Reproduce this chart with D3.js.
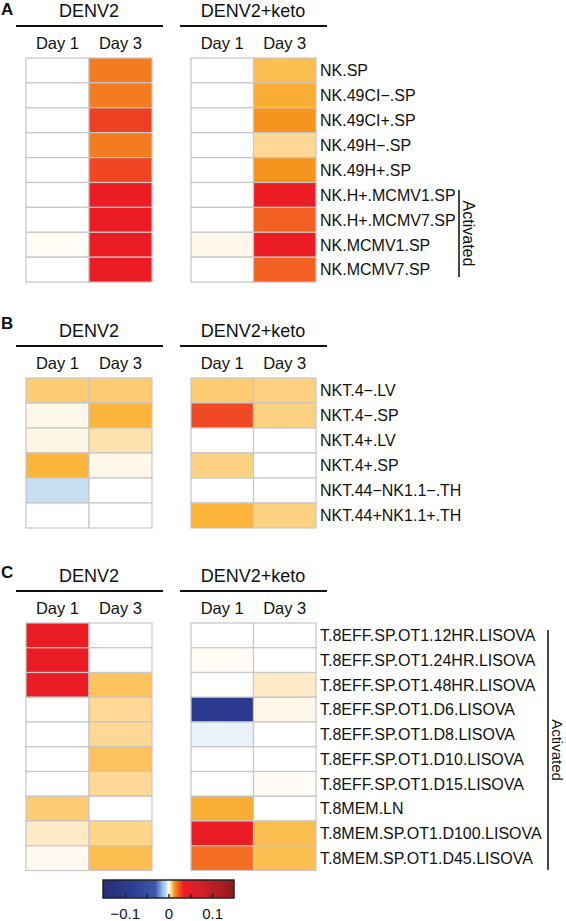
<!DOCTYPE html>
<html><head><meta charset="utf-8">
<script src="https://cdn.jsdelivr.net/npm/d3@7"></script>
<style>
body{margin:0;background:#fff;}
text{font-family:"Liberation Sans",Arial,Helvetica,sans-serif;fill:#111;}
</style></head>
<body><svg id="c" width="566" height="921"></svg>
<script>
const groups = ["DENV2", "DENV2+keto"];
const days = ["Day 1", "Day 3"];

const rowsA = ["NK.SP","NK.49CI\u2212.SP","NK.49CI+.SP","NK.49H\u2212.SP","NK.49H+.SP","NK.H+.MCMV1.SP","NK.H+.MCMV7.SP","NK.MCMV1.SP","NK.MCMV7.SP"];
const a_denv_d1 = [0,0,0,0,0,0,0,0.001,0];
const a_denv_d3 = [0.018,0.018,0.028,0.018,0.027,0.035,0.036,0.036,0.036];
const a_keto_d1 = [0,0,0,0,0,0,0,0.002,0];
const a_keto_d3 = [0.009,0.011,0.014,0.006,0.014,0.036,0.022,0.036,0.022];

const rowsB = ["NKT.4\u2212.LV","NKT.4\u2212.SP","NKT.4+.LV","NKT.4+.SP","NKT.44\u2212NK1.1\u2212.TH","NKT.44+NK1.1+.TH"];
const b_denv_d1 = [0.0075,0.002,0.0025,0.010,-0.005,0];
const b_denv_d3 = [0.0075,0.010,0.005,0.002,0,0];
const b_keto_d1 = [0.0075,0.026,0,0.0068,0,0.010];
const b_keto_d3 = [0.0068,0.0068,0,0,0,0.0068];

const rowsC = ["T.8EFF.SP.OT1.12HR.LISOVA","T.8EFF.SP.OT1.24HR.LISOVA","T.8EFF.SP.OT1.48HR.LISOVA","T.8EFF.SP.OT1.D6.LISOVA","T.8EFF.SP.OT1.D8.LISOVA","T.8EFF.SP.OT1.D10.LISOVA","T.8EFF.SP.OT1.D15.LISOVA","T.8MEM.LN","T.8MEM.SP.OT1.D100.LISOVA","T.8MEM.SP.OT1.D45.LISOVA"];
const c_denv_d1 = [0.036,0.036,0.036,0,0,0,0,0.0075,0.004,0.0015];
const c_denv_d3 = [0,0,0.0085,0.006,0.006,0.0085,0.006,0,0.0065,0.009];
const c_keto_d1 = [0,0.001,0,-0.1,-0.002,0,0,0.011,0.036,0.02];
const c_keto_d3 = [0,0,0.004,0.002,0,0,0.001,0,0.009,0.009];

const colorTicks = [-0.1,-0.05,0,0.05,0.1];
const colorDomain = [-0.15,0.15];

const stopV = [-0.15,-0.08,-0.03,-0.015,-0.005,0,0.003,0.006,0.01,0.014,0.018,0.023,0.028,0.035,0.07,0.15];
const stopC = ["#262f75","#2d3e95","#3b5aa8","#8fb8e0","#c8def2","#ffffff","#fff3e0","#fed894","#fbb53a","#f7941d","#f47b20","#f15a22","#ee4023","#ec1c24","#d7202a","#8e1b1e"];
const color = d3.scaleLinear().domain(stopV).range(stopC).clamp(true);

const panels = [
  {letter:"A", letterY:15, top:58, rowH:24.9, rows:rowsA, vals:[[a_denv_d1,a_denv_d3],[a_keto_d1,a_keto_d3]], act:{x:459,y0:190,y1:277,fs:16}},
  {letter:"B", letterY:329, top:378, rowH:25, rows:rowsB, vals:[[b_denv_d1,b_denv_d3],[b_keto_d1,b_keto_d3]], act:null},
  {letter:"C", letterY:578, top:623, rowH:24.75, rows:rowsC, vals:[[c_denv_d1,c_denv_d3],[c_keto_d1,c_keto_d3]], act:{x:548,y0:630,y1:870,fs:15}}
];

const svg = d3.select("#c");
const groupX = d3.scaleOrdinal().domain(groups).range([[26,152],[191,316]]);
const lineX = d3.scaleOrdinal().domain(groups).range([[16,163],[180,327]]);

panels.forEach(p => {
  const g = svg.append("g");
  g.append("text").attr("x",1).attr("y",p.letterY).attr("font-size",17).attr("font-weight","bold").text(p.letter);
  const y = d3.scaleBand().domain(p.rows).range([p.top, p.top + p.rows.length*p.rowH]);
  groups.forEach((grp, gi) => {
    const x = d3.scaleBand().domain(days).range(groupX(grp));
    const lx = lineX(grp);
    g.append("text").attr("x",(lx[0]+lx[1])/2 - 0.5).attr("y",p.top-41).attr("text-anchor","middle").attr("font-size",18).text(grp);
    g.append("line").attr("x1",lx[0]).attr("x2",lx[1]).attr("y1",p.top-32).attr("y2",p.top-32).attr("stroke","#111").attr("stroke-width",2);
    days.forEach((d, di) => {
      g.append("text").attr("x",x(d)+x.bandwidth()/2).attr("y",p.top-9).attr("text-anchor","middle").attr("font-size",16.5).text(d);
      g.selectAll(null).data(p.vals[gi][di]).enter().append("rect")
        .attr("x",x(d)).attr("y",(v,i)=>y(p.rows[i]))
        .attr("width",x.bandwidth()).attr("height",y.bandwidth())
        .attr("fill",v=>color(v)).attr("stroke","#c6c6c6").attr("stroke-width",1.2);
    });
  });
  g.selectAll(null).data(p.rows).enter().append("text")
    .attr("x",320).attr("y",r=>y(r)+y.bandwidth()/2).attr("dy","0.36em").attr("font-size",16).text(r=>r);
  if (p.act) {
    g.append("line").attr("x1",p.act.x).attr("x2",p.act.x).attr("y1",p.act.y0).attr("y2",p.act.y1).attr("stroke","#333").attr("stroke-width",1.8);
    const cy = (p.act.y0+p.act.y1)/2;
    g.append("text").attr("transform",`translate(${p.act.x+4},${cy}) rotate(90)`).attr("text-anchor","middle").attr("font-size",p.act.fs).attr("fill","#333").text("Activated");
  }
});

// colorbar
const cx = d3.scaleLinear().domain(colorDomain).range([103,234]);
const defs = svg.append("defs");
const grad = defs.append("linearGradient").attr("id","cb").attr("x1","0%").attr("x2","100%");
d3.range(0,101).forEach(i => {
  const v = colorDomain[0] + (colorDomain[1]-colorDomain[0])*i/100;
  grad.append("stop").attr("offset",i+"%").attr("stop-color",color(v));
});
svg.append("rect").attr("x",cx(colorDomain[0])).attr("y",880).attr("width",cx(colorDomain[1])-cx(colorDomain[0])).attr("height",18)
  .attr("fill","url(#cb)").attr("stroke","#222").attr("stroke-width",1.5);
const ax = svg.append("g").attr("transform","translate(0,898)")
  .call(d3.axisBottom(cx).tickValues(colorTicks).tickSizeInner(-4).tickSizeOuter(0).tickPadding(10)
    .tickFormat(d => Math.abs(d)===0.05 ? "" : (d===0 ? "0" : d3.format(".1f")(d))));
ax.select(".domain").remove();
ax.selectAll("line").attr("stroke","#222").attr("stroke-width",1.5);
ax.selectAll("text").attr("font-size",15).attr("fill","#111").attr("font-family","Liberation Sans, Arial, sans-serif");
</script></body></html>
